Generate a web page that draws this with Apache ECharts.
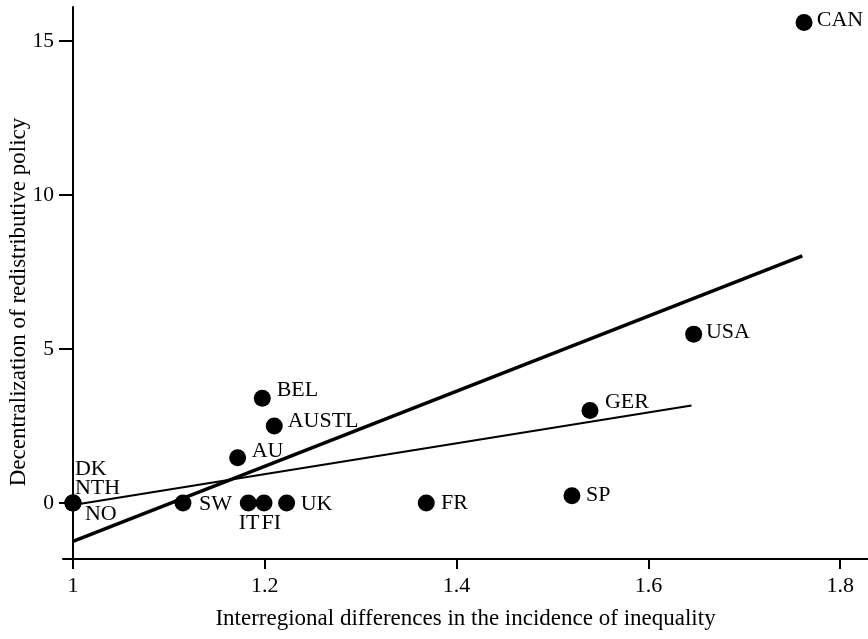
<!DOCTYPE html>
<html>
<head>
<meta charset="utf-8">
<script src="https://cdn.jsdelivr.net/npm/echarts@6/dist/echarts.min.js"></script>
<style>html,body{margin:0;padding:0;background:#fff}#c{width:868px;height:639px}</style>
</head>
<body>
<div id="c"></div>
<script>
// Data
const countries = ['DK','NTH','NO','SW','IT','FI','UK','AU','BEL','AUSTL','FR','SP','GER','USA','CAN'];
const xValues   = [1.000,1.000,1.000,1.1147,1.1828,1.1992,1.2228,1.1717,1.1974,1.2099,1.3684,1.5203,1.5391,1.6472,1.7623];
const yValues   = [0.00,0.00,0.00,0.00,0.00,0.00,0.00,1.47,3.40,2.50,0.00,0.23,3.00,5.48,15.60];
const fitAll      = [[1.000,-1.25],[1.7605,8.02]];
const fitNoCanada = [[1.000,-0.07],[1.645,3.16]];
const xTicks = [1, 1.2, 1.4, 1.6, 1.8];
const yTicks = [0, 5, 10, 15];

// label placement (style only): offset of text left / text middle from dot centre
const labelOffsets = {
  DK:[2,-33.5], NTH:[2,-15], NO:[12,11.5], SW:[16,1], IT:[-9.5,20], FI:[-2.5,20],
  UK:[14,1], AU:[14,-6], BEL:[14.4,-7.6], AUSTL:[13.4,-5], FR:[14.7,0], SP:[14,-1],
  GER:[15,-8.7], USA:[12.3,-2], CAN:[12.7,-2]
};
const SYM = 17;
const FONT = '"Liberation Serif","Times New Roman",serif';

const points = countries.map((n,i)=>{
  const o = labelOffsets[n];
  return {
    name:n, value:[xValues[i], yValues[i]],
    label:{show:true, formatter:n, position:[SYM/2+o[0], SYM/2+o[1]], align:'left', verticalAlign:'middle'}
  };
});

const chart = echarts.init(document.getElementById('c'), null, {renderer:'canvas'});
chart.setOption({
  animation:false,
  backgroundColor:'#fff',
  textStyle:{fontFamily:FONT},
  grid:{left:63, right:0, top:7, bottom:80, containLabel:false, outerBoundsMode:'none'},
  xAxis:{
    type:'value', min:0.9896, max:1.829,
    name:'Interregional differences in the incidence of inequality',
    nameLocation:'middle', nameGap:48, nameMoveOverlap:false,
    nameTextStyle:{fontFamily:FONT, fontSize:23, color:'#000'},
    axisLine:{show:true, onZero:false, lineStyle:{color:'#000', width:2}},
    axisTick:{show:true, length:10, lineStyle:{color:'#000', width:2}, customValues:xTicks},
    axisLabel:{fontFamily:FONT, fontSize:22, color:'#000', margin:16, customValues:xTicks,
      formatter:v=>String(v)},
    splitLine:{show:false}
  },
  yAxis:{
    type:'value', min:-1.82, max:16.1, offset:-10,
    name:'Decentralization of redistributive policy',
    nameLocation:'middle', nameGap:43, nameRotate:90, nameMoveOverlap:false,
    nameTextStyle:{fontFamily:FONT, fontSize:23, color:'#000', padding:[0,38,0,0]},
    axisLine:{show:true, onZero:false, lineStyle:{color:'#000', width:2}},
    axisTick:{show:true, length:14, lineStyle:{color:'#000', width:2}, customValues:yTicks},
    axisLabel:{fontFamily:FONT, fontSize:21.5, color:'#000', margin:19, customValues:yTicks},
    splitLine:{show:false}
  },
  series:[
    {type:'line', data:fitAll, symbol:'none', lineStyle:{color:'#000', width:3.5}, z:3, silent:true},
    {type:'line', data:fitNoCanada, symbol:'none', lineStyle:{color:'#000', width:2}, z:3, silent:true},
    {type:'scatter', data:points, symbol:'circle', symbolSize:SYM,
      itemStyle:{color:'#000', opacity:1}, z:4,
      label:{fontFamily:FONT, fontSize:22, color:'#000', opacity:1}}
  ]
});
</script>
</body>
</html>
